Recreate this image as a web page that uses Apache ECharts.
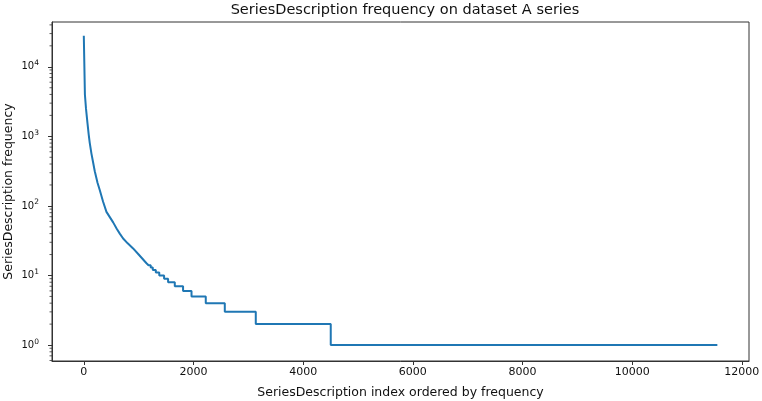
<!DOCTYPE html>
<html>
<head>
<meta charset="utf-8">
<script src="https://cdn.jsdelivr.net/npm/echarts@6/dist/echarts.min.js"></script>
<style>
  html, body { margin: 0; padding: 0; background: #fff; }
  #chart { width: 762px; height: 401px; }
</style>
</head>
<body>
<div id="chart"></div>
<script>
// smooth head of the curve (index, frequency)
const curveIndex = [0, 20, 40, 67, 90, 109, 140, 170, 200, 250, 292, 352, 413, 474, 535, 600, 656, 717, 800, 899, 1000, 1143];
const curveFreq = [28000, 4000, 2500, 1550, 1050, 800, 560, 420, 315, 215, 168, 115, 82, 69, 58, 47, 40, 34, 29, 24.5, 20, 15];

// integer plateaus of the tail
const stepStart = [1180, 1220, 1258, 1313, 1376, 1464, 1537, 1659, 1810, 1964, 2224, 2571, 3136, 4503];
const stepFreq = [14, 13, 12, 11, 10, 9, 8, 7, 6, 5, 4, 3, 2, 1];
const lastIndex = 11553;

const xMin = -580;
const xMax = 12130;
const yMin = 0.59;
const yMax = 44000;

const lineData = curveIndex.map((x, i) => [x, curveFreq[i]]);
stepStart.forEach((s, i) => {
  const end = i < stepStart.length - 1 ? stepStart[i + 1] : lastIndex;
  lineData.push([s, stepFreq[i]], [end, stepFreq[i]]);
});

// minor ticks of the log axis (2..9 x 10^k)
const minorTicks = [];
for (let k = -1; k <= 4; k++) {
  for (let m = 2; m <= 9; m++) {
    const v = m * Math.pow(10, k);
    if (v >= yMin && v <= yMax) minorTicks.push([xMin, v]);
  }
}

const font = "'DejaVu Sans', sans-serif";
const chart = echarts.init(document.getElementById('chart'), null, { renderer: 'canvas' });

chart.setOption({
  animation: false,
  title: {
    text: 'SeriesDescription frequency on dataset A series',
    left: 400,
    top: -2,
    textAlign: 'center',
    textStyle: { fontFamily: font, fontSize: 14.5, fontWeight: 'normal', color: '#111' }
  },
  grid: {
    left: 52,
    right: 13,
    top: 22,
    bottom: 40,
    outerBoundsMode: 'none',
    show: true,
    borderColor: '#333',
    borderWidth: 1,
    backgroundColor: 'transparent'
  },
  xAxis: {
    type: 'value',
    min: xMin,
    max: xMax,
    splitNumber: 6,
    name: 'SeriesDescription index ordered by frequency',
    nameLocation: 'middle',
    nameGap: 25,
    nameMoveOverlap: false,
    nameTextStyle: { fontFamily: font, fontSize: 12.5, color: '#111' },
    axisLine: { show: true, onZero: false, lineStyle: { color: '#333', width: 1 } },
    axisTick: { show: true, length: 4, lineStyle: { color: '#333' } },
    axisLabel: {
      fontFamily: font,
      fontSize: 11,
      color: '#111',
      margin: 6,
      showMinLabel: false,
      showMaxLabel: false,
      formatter: (v) => String(v)
    },
    splitLine: { show: false }
  },
  yAxis: {
    type: 'log',
    logBase: 10,
    min: yMin,
    max: yMax,
    name: 'SeriesDescription frequency',
    nameLocation: 'middle',
    nameGap: 37,
    nameMoveOverlap: false,
    nameTextStyle: { fontFamily: font, fontSize: 12.5, color: '#111' },
    axisLine: { show: true, onZero: false, lineStyle: { color: '#333', width: 1 } },
    axisTick: { show: true, length: 4, lineStyle: { color: '#333' } },
    axisLabel: {
      fontFamily: font,
      color: '#111',
      margin: 13,
      showMinLabel: false,
      showMaxLabel: false,
      formatter: (v) => {
        const e = Math.round(Math.log10(v));
        if (Math.abs(Math.log10(v) - e) > 1e-6) return '';
        return '{b|10}{sup|' + e + '}';
      },
      rich: {
        b: { fontFamily: font, fontSize: 10, color: '#111', lineHeight: 15 },
        sup: { fontFamily: font, fontSize: 7.5, color: '#111', verticalAlign: 'top', lineHeight: 8 }
      }
    },
    splitLine: { show: false }
  },
  series: [
    {
      type: 'line',
      data: lineData,
      showSymbol: false,
      lineStyle: { color: '#1f77b4', width: 2 },
      itemStyle: { color: '#1f77b4' }
    },
    {
      type: 'custom',
      silent: true,
      clip: false,
      data: minorTicks,
      encode: { x: 0, y: 1 },
      renderItem: (params, api) => {
        const p = api.coord([api.value(0), api.value(1)]);
        return {
          type: 'line',
          shape: { x1: p[0] - 2.5, y1: p[1], x2: p[0], y2: p[1] },
          style: { stroke: '#333', lineWidth: 0.8 }
        };
      }
    }
  ]
});
</script>
</body>
</html>
